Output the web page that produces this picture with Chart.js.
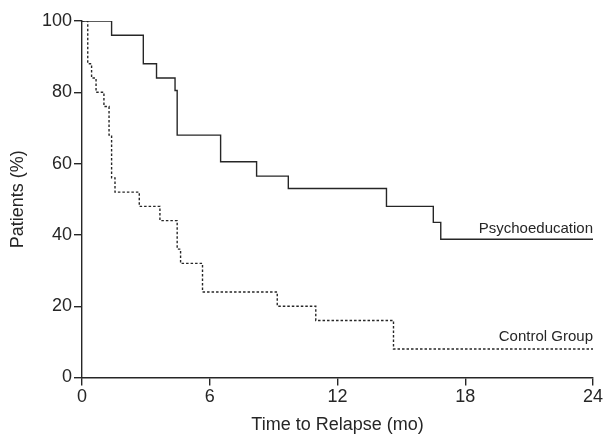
<!DOCTYPE html>
<html>
<head>
<meta charset="utf-8">
<script src="https://cdn.jsdelivr.net/npm/chart.js@4"></script>
<style>
  html, body { margin: 0; padding: 0; background: #fff; }
  #wrap { width: 605px; height: 436px; }
</style>
</head>
<body>
<div id="wrap"><canvas id="km"></canvas></div>
<script>
// Time to relapse, months (step at each event)
const psychoTimes  = [0, 1.39, 2.88, 3.5, 4.37, 4.47, 6.51, 8.2, 9.69, 14.3, 16.5, 16.85, 24];
const psychoValues = [100, 96, 88, 84, 80.5, 68, 60.5, 56.5, 53, 48, 43.5, 38.8, 38.8];

const controlTimes  = [0, 0.27, 0.45, 0.66, 1.03, 1.27, 1.39, 1.55, 2.69, 3.66, 4.47, 4.63, 5.66, 9.17, 10.98, 14.63, 24];
const controlValues = [100, 88, 84, 80, 76, 68, 56, 52, 48, 44, 36, 32, 24, 20, 16, 8, 8];

const xTicks = [0, 6, 12, 18, 24];
const yTicks = [0, 20, 40, 60, 80, 100];

const groupLabels = [
  { text: 'Psychoeducation', x: 24, y: 40.4 },
  { text: 'Control Group', x: 24, y: 10.3 },
];

const toPoints = (xs, ys) => xs.map((x, i) => ({ x: x, y: ys[i] }));

const FONT = '"Liberation Sans", Arial, sans-serif';
const INK = '#262626';

// draws the group names next to the curves
const curveLabels = {
  id: 'curveLabels',
  afterDatasetsDraw(chart) {
    const { ctx, scales } = chart;
    ctx.save();
    ctx.font = '15px ' + FONT;
    ctx.fillStyle = INK;
    ctx.textAlign = 'right';
    ctx.textBaseline = 'alphabetic';
    groupLabels.forEach(l => {
      ctx.fillText(l.text, scales.x.getPixelForValue(l.x), scales.y.getPixelForValue(l.y));
    });
    ctx.restore();
  }
};

new Chart(document.getElementById('km'), {
  type: 'line',
  data: {
    datasets: [
      {
        label: 'Psychoeducation',
        data: toPoints(psychoTimes, psychoValues),
        stepped: 'before',
        borderColor: INK,
        borderWidth: 1.4,
        pointRadius: 0,
        fill: false,
      },
      {
        label: 'Control Group',
        data: toPoints(controlTimes, controlValues),
        stepped: 'before',
        borderColor: INK,
        borderWidth: 1.4,
        borderDash: [2.5, 2],
        pointRadius: 0,
        fill: false,
      },
    ],
  },
  options: {
    responsive: true,
    maintainAspectRatio: false,
    animation: false,
    layout: { padding: { top: 21, right: 12, left: 0, bottom: 0 } },
    plugins: {
      legend: { display: false },
      tooltip: { enabled: false },
    },
    scales: {
      x: {
        type: 'linear',
        min: 0,
        max: 24,
        afterBuildTicks: s => { s.ticks = xTicks.map(v => ({ value: v })); },
        afterFit: s => { s.height = 58.5; },
        ticks: { font: { family: FONT, size: 18 }, color: INK, padding: 1, maxRotation: 0 },
        grid: { drawOnChartArea: false, drawTicks: true, tickLength: 8, color: INK, lineWidth: 1.4 },
        border: { display: true, color: INK, width: 1.4 },
        title: { display: true, text: 'Time to Relapse (mo)', font: { family: FONT, size: 18 }, color: INK, padding: { top: 4, bottom: 0 } },
      },
      y: {
        min: 0,
        max: 100,
        afterBuildTicks: s => { s.ticks = yTicks.map(v => ({ value: v })); },
        afterFit: s => { s.width = 82; },
        ticks: { font: { family: FONT, size: 18 }, color: INK, padding: 2 },
        grid: { drawOnChartArea: false, drawTicks: true, tickLength: 8, color: INK, lineWidth: 1.4 },
        border: { display: true, color: INK, width: 1.4 },
        title: { display: true, text: 'Patients (%)', font: { family: FONT, size: 18 }, color: INK, padding: { top: 7, bottom: 0 } },
      },
    },
  },
  plugins: [curveLabels],
});
</script>
</body>
</html>
